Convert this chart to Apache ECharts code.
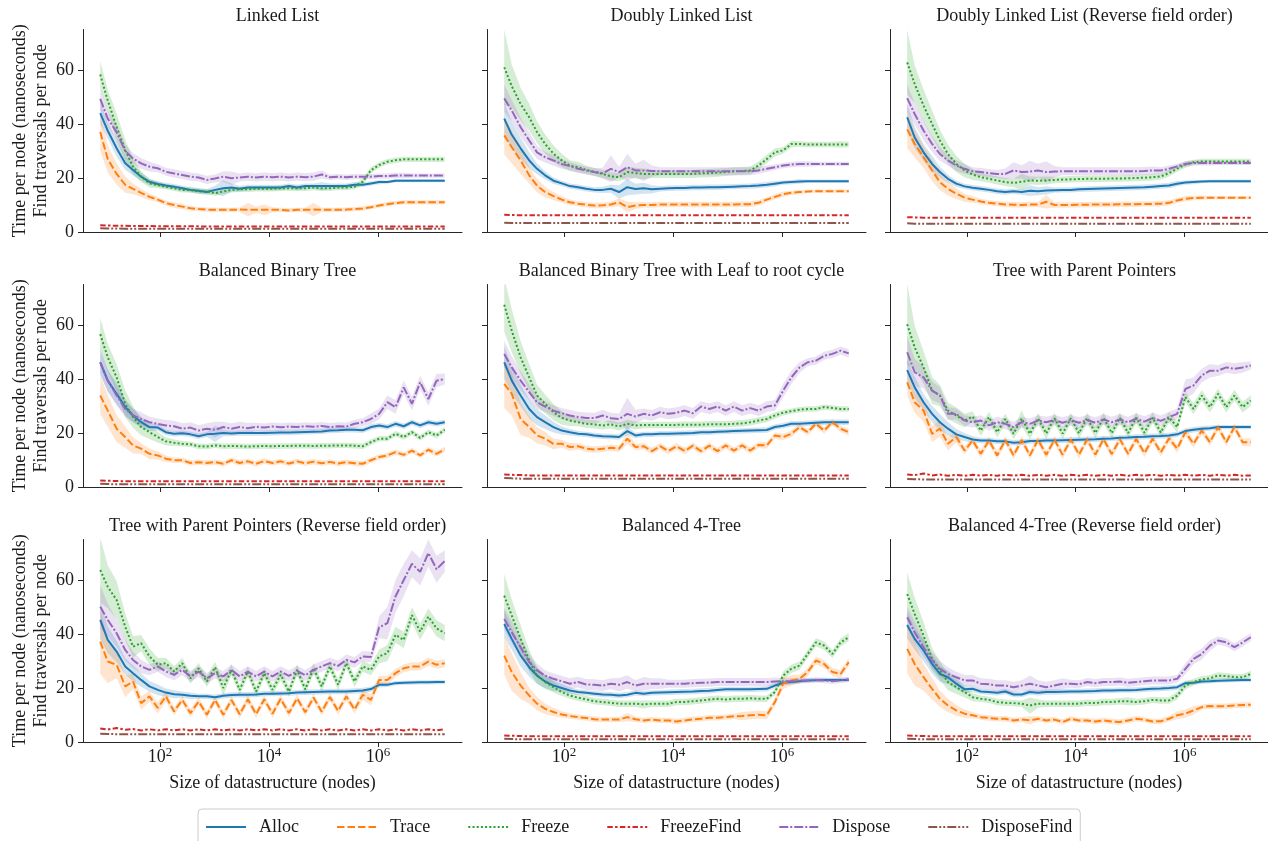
<!DOCTYPE html>
<html>
<head>
<meta charset="utf-8">
<title>Time per node by datastructure size</title>
<script src="https://cdn.jsdelivr.net/npm/echarts@6/dist/echarts.min.js"></script>
<style>
  html, body { margin: 0; padding: 0; background: #fff; }
  #chart { width: 1268px; height: 841px; }
</style>
</head>
<body>
<div id="chart"></div>
<script>
// datastructure sizes (nodes), half-octave steps from 2^3 to 2^24
const sizes = [8, 11, 16, 23, 32, 45, 64, 91, 128, 181, 256, 362, 512, 724, 1024, 1448, 2048, 2896, 4096, 5793, 8192, 11585, 16384, 23170, 32768, 46341, 65536, 92682, 131072, 185364, 262144, 370728, 524288, 741455, 1048576, 1482910, 2097152, 2965821, 4194304, 5931642, 8388608, 11863283, 16777216];

const seriesNames = ['Alloc', 'Trace', 'Freeze', 'FreezeFind', 'Dispose', 'DisposeFind'];
const xTicks = [100, 10000, 1000000];
const yTicks = [0, 20, 40, 60];

// Linked List
const llAlloc = [44, 37.5, 31, 25.5, 23, 20.5, 18.6, 17.8, 17.2, 16.8, 16.2, 15.6, 15.3, 14.8, 15.6, 16.2, 16.5, 16, 16.5, 16.5, 16.5, 16.5, 16.5, 17, 16.5, 17, 17, 17, 17, 17, 17, 17.5, 17.5, 18, 18.5, 18.5, 19, 19, 19, 19, 19, 19, 19];
const llTrace = [37, 27, 21.5, 17.5, 16, 14.5, 13, 12, 10.7, 10, 9.4, 8.8, 8.5, 8.3, 8.2, 8.2, 8.2, 8.3, 8.2, 8.2, 8.2, 8.2, 8.2, 8, 8.2, 8.2, 8.3, 8.2, 8.2, 8.2, 8.3, 8.5, 8.7, 9.2, 9.8, 10.3, 10.7, 11, 11, 11, 11, 11, 11];
const llFreeze = [58.3, 48.7, 38.9, 30.3, 24.2, 20.5, 18, 17.4, 16.8, 16.2, 15.6, 15.6, 15, 15, 14.4, 15, 15.6, 15.8, 15.8, 16, 16, 16, 16.2, 16.2, 16.2, 16.2, 16.5, 16.2, 16.2, 16.5, 16.5, 16.8, 18.6, 22.9, 24.8, 26, 26.6, 26.9, 26.9, 26.9, 26.9, 26.9, 26.9];
const llFFind = [2.5, 2.4, 2.3, 2.3, 2.2, 2.2, 2.2, 2.1, 2.1, 2.1, 2.1, 2.1, 2.1, 2, 2, 2, 2, 2, 2, 2, 2, 2, 2, 2, 2, 2, 2, 2, 2, 2, 2, 2, 2, 2, 2, 2, 2, 2, 2, 2, 2, 2, 2];
const llDispose = [49.3, 42, 37, 30, 27.2, 25.4, 24.2, 23.6, 22.3, 21.7, 21.1, 20.5, 20.2, 19.3, 19.8, 20.5, 19.9, 20.2, 20.5, 20.2, 20.5, 20.3, 20.5, 20.2, 20.5, 20.3, 20.5, 21.3, 20.3, 20.5, 20.3, 20.5, 20.5, 20.5, 20.7, 20.7, 20.9, 20.9, 20.9, 20.9, 20.9, 20.9, 20.9];
const llDFind = [1.4, 1.3, 1.3, 1.2, 1.2, 1.2, 1.2, 1.2, 1.2, 1.2, 1.2, 1.2, 1.2, 1.2, 1.2, 1.2, 1.2, 1.2, 1.2, 1.2, 1.2, 1.2, 1.2, 1.2, 1.2, 1.2, 1.2, 1.2, 1.2, 1.2, 1.2, 1.2, 1.2, 1.2, 1.2, 1.2, 1.2, 1.2, 1.2, 1.2, 1.2, 1.2, 1.2];
const llAllocBand = [4, 3, 3, 2.5, 2, 1.5, 1.2, 1, 1, 1, 1, 1, 1, 1, 1.5, 3, 1.5, 1, 1, 1, 1, 1, 1, 1, 1, 1, 1, 1.5, 1, 1, 1, 1, 0.8, 0.8, 0.8, 0.6, 0.6, 0.6, 0.6, 0.6, 0.6, 0.6, 0.6];
const llTraceBand = [7, 5, 4, 3, 2, 1.5, 1.2, 1, 1, 1, 1, 0.8, 0.8, 0.8, 0.8, 0.8, 0.8, 0.8, 2.5, 1.2, 2, 1, 0.8, 0.8, 0.8, 0.8, 2.5, 0.8, 0.8, 0.8, 0.8, 0.8, 0.8, 0.8, 0.8, 0.8, 0.8, 0.8, 0.8, 0.8, 0.8, 0.8, 0.8];
const llFreezeBand = [5, 4, 5, 4, 3, 2, 1.5, 1.2, 1, 1, 1, 1, 1, 1, 1, 1, 1, 1, 1, 1, 1, 1, 1, 1, 1, 1, 1, 1, 1, 1, 1, 1, 1.2, 1.2, 1, 1, 1, 1, 1, 1, 1, 1, 1];
const llDisposeBand = [4, 3, 3, 2.5, 2, 2, 1.8, 1.5, 1.5, 1.5, 1.5, 1.5, 1.5, 1.5, 1.5, 2, 2.5, 1.5, 1.5, 1.5, 1.5, 1.5, 1.5, 1.5, 1.5, 1.5, 1.5, 1.5, 1, 1, 1, 1, 1, 1, 1, 1, 1, 1, 0.8, 0.8, 0.8, 0.8, 0.8];

// Doubly Linked List
const dllAlloc = [42, 36, 31, 26.5, 23.4, 21, 19, 18, 17, 16.6, 16, 15.6, 15.6, 16, 14.8, 16.6, 15.9, 16.2, 15.8, 16, 16.2, 16.3, 16.3, 16.5, 16.5, 16.6, 16.6, 16.7, 16.8, 16.9, 17, 17.2, 17.5, 17.9, 18.3, 18.5, 18.7, 18.8, 18.8, 18.8, 18.8, 18.8, 18.8];
const dllTrace = [35.8, 31.4, 26.5, 21, 17.2, 14.8, 13.3, 12, 11, 10.5, 10.1, 9.8, 9.9, 10.2, 11, 9.2, 9.8, 10, 10, 10.2, 10.2, 10.2, 10.2, 10.2, 10.2, 10.2, 10.2, 10.2, 10.2, 10.3, 10.3, 10.8, 12, 13, 14, 14.5, 14.8, 15, 15.1, 15.1, 15.1, 15.1, 15.1];
const dllFreeze = [61, 54, 47.4, 42.5, 37, 32.6, 29, 26.5, 24.6, 24, 23, 22.2, 21.5, 20.6, 20.3, 22.2, 21.8, 21.5, 21.5, 21.5, 21.5, 21.5, 21.5, 21.5, 21.7, 21.8, 22, 22.2, 22.5, 22.6, 22.8, 24.6, 27, 29.5, 30.2, 32.6, 32.6, 32.4, 32.4, 32.4, 32.4, 32.4, 32.4];
const dllFFind = [6.4, 6.3, 6.2, 6.2, 6.2, 6.2, 6.2, 6.2, 6.2, 6.2, 6.2, 6.2, 6.2, 6.2, 6.2, 6.2, 6.2, 6.2, 6.2, 6.2, 6.2, 6.2, 6.2, 6.2, 6.2, 6.2, 6.2, 6.2, 6.2, 6.2, 6.2, 6.2, 6.2, 6.2, 6.2, 6.2, 6.2, 6.2, 6.2, 6.2, 6.2, 6.2, 6.2];
const dllDispose = [49.5, 45, 38.8, 33.9, 29.5, 27.7, 26.5, 25.2, 24.4, 23.4, 22.8, 22.2, 21.8, 23.4, 22.2, 24, 22.8, 22.8, 22.6, 22.5, 22.5, 22.5, 22.5, 22.5, 22.5, 22.5, 22.5, 22.5, 22.5, 22.5, 22.5, 22.8, 23.4, 24, 24.6, 25, 25.2, 25.2, 25.2, 25.2, 25.2, 25.2, 25.2];
const dllDFind = [3.4, 3.3, 3.3, 3.3, 3.3, 3.3, 3.3, 3.3, 3.3, 3.3, 3.3, 3.3, 3.3, 3.3, 3.3, 3.3, 3.3, 3.3, 3.3, 3.3, 3.3, 3.3, 3.3, 3.3, 3.3, 3.3, 3.3, 3.3, 3.3, 3.3, 3.3, 3.3, 3.3, 3.3, 3.3, 3.3, 3.3, 3.3, 3.3, 3.3, 3.3, 3.3, 3.3];
const dllAllocBand = [6, 5, 4, 3, 2, 1.5, 1.2, 1, 1, 1, 1, 1, 1.2, 1.5, 2.5, 3, 2, 2, 1.5, 1, 1, 1, 1, 1, 1, 1, 1, 1, 1, 1, 1, 1, 1, 1, 0.8, 0.8, 0.8, 0.6, 0.6, 0.6, 0.6, 0.6, 0.6];
const dllTraceBand = [7, 6, 5, 3, 2.5, 2, 1.5, 1.2, 1, 1, 1, 1, 1, 1, 1.5, 2, 1.2, 1, 1, 1, 1, 1, 1, 1, 1, 1, 1, 1, 1, 1, 1, 1, 1, 1, 1, 0.8, 0.8, 0.6, 0.6, 0.6, 0.6, 0.6, 0.6];
const dllFreezeBand = [14, 8, 6, 5, 4, 3.5, 3, 2.5, 2, 2, 1.5, 1.5, 1.5, 1.5, 1.5, 2, 2, 2, 1.5, 1.5, 1.5, 1.5, 1.5, 1.5, 1.5, 1.5, 1.5, 1.5, 1.5, 1.5, 1.5, 1.5, 1.5, 1.5, 1.2, 1.2, 1, 1, 1, 1, 1, 1.2, 1];
const dllDisposeBand = [5, 4, 3.5, 3, 2.5, 2, 2, 1.8, 1.5, 1.5, 1.5, 1.5, 2, 5, 2, 5, 2.5, 4, 2, 1.5, 1.5, 1.5, 1.5, 1.5, 1.5, 1.5, 1.5, 1.5, 1.5, 1.5, 1.5, 1.2, 1.2, 1, 1, 1, 1, 1, 0.8, 0.8, 0.8, 0.8, 0.8];

// Doubly Linked List (Reverse field order)
const dllrAlloc = [42.5, 35, 29.5, 25.2, 22.2, 19.7, 17.9, 16.9, 16.4, 16, 15.6, 15.1, 14.8, 15.1, 14.8, 15.3, 15.1, 15.4, 15.5, 15.6, 15.6, 15.8, 15.9, 16, 16.1, 16.2, 16.3, 16.4, 16.5, 16.6, 16.8, 17, 17.2, 17.9, 18.3, 18.5, 18.7, 18.8, 18.8, 18.8, 18.8, 18.8, 18.8];
const dllrTrace = [38, 32.6, 27.7, 22.8, 18.5, 16, 14.2, 12.7, 12, 11.3, 10.8, 10.5, 10.2, 10.1, 10, 10.2, 10.2, 11.2, 10, 10, 10, 10.1, 10.1, 10.2, 10.2, 10.2, 10.3, 10.3, 10.3, 10.4, 10.4, 10.5, 10.8, 11.7, 12.3, 12.6, 12.7, 12.7, 12.7, 12.7, 12.7, 12.7, 12.7];
const dllrFreeze = [62.8, 54.8, 46.8, 40, 33.9, 28.9, 25.2, 22.8, 21.3, 20.3, 19.7, 19.1, 18.5, 18.2, 18.6, 19.1, 19, 19.1, 19.3, 19.4, 19.5, 19.6, 19.7, 19.7, 19.7, 19.8, 19.8, 19.9, 20, 20.1, 20.3, 20.6, 21.8, 23.5, 25, 25.8, 26.1, 26.1, 26.1, 26.1, 26.1, 26.1, 26.1];
const dllrFFind = [5.5, 5.4, 5.3, 5.3, 5.3, 5.3, 5.3, 5.3, 5.3, 5.3, 5.3, 5.3, 5.3, 5.3, 5.3, 5.3, 5.3, 5.3, 5.3, 5.3, 5.3, 5.3, 5.3, 5.3, 5.3, 5.3, 5.3, 5.3, 5.3, 5.3, 5.3, 5.3, 5.3, 5.3, 5.3, 5.3, 5.3, 5.3, 5.3, 5.3, 5.3, 5.3, 5.3];
const dllrDispose = [49.6, 43.7, 37.6, 32.6, 28.9, 26.5, 24.6, 23.4, 22.5, 22.2, 21.8, 21.5, 21.5, 22.8, 22.2, 22.4, 22.8, 22.2, 22.4, 22.5, 22.5, 22.5, 22.5, 22.5, 22.5, 22.5, 22.5, 22.5, 22.5, 22.6, 22.8, 22.8, 23.4, 24.3, 25.2, 25.6, 25.6, 25.6, 25.6, 25.6, 25.6, 25.6, 25.6];
const dllrDFind = [3.2, 3.1, 3.1, 3.1, 3.1, 3.1, 3.1, 3.1, 3.1, 3.1, 3.1, 3.1, 3.1, 3.1, 3.1, 3.1, 3.1, 3.1, 3.1, 3.1, 3.1, 3.1, 3.1, 3.1, 3.1, 3.1, 3.1, 3.1, 3.1, 3.1, 3.1, 3.1, 3.1, 3.1, 3.1, 3.1, 3.1, 3.1, 3.1, 3.1, 3.1, 3.1, 3.1];
const dllrAllocBand = [5, 4, 3, 3, 2, 1.5, 1.2, 1, 1, 1, 1, 1, 1, 1, 1, 2, 1.5, 1.5, 1, 1, 1, 1, 1, 1, 1, 1, 1, 1, 1, 1, 1, 1, 1, 1, 0.8, 0.8, 0.6, 0.6, 0.6, 0.6, 0.6, 0.6, 0.6];
const dllrTraceBand = [7, 5, 4, 4, 3, 2.5, 2, 1.5, 1.2, 1, 1, 1, 1, 1, 1, 1, 1, 2.5, 1, 1, 1, 1, 1, 1, 1, 1, 1, 1, 1, 1, 1, 1, 1, 1, 1, 0.8, 0.8, 0.6, 0.6, 0.6, 0.6, 0.6, 0.6];
const dllrFreezeBand = [12, 7, 6, 5, 4, 3.5, 3, 2.5, 2, 1.5, 1.5, 1.5, 1.5, 1.5, 3, 1.5, 1.5, 1.5, 1.2, 1.2, 1.2, 1.2, 1.2, 1.2, 1.2, 1.2, 1.2, 1.2, 1.2, 1.2, 1.2, 1.2, 1.2, 1.2, 1.2, 1, 1, 1, 1, 1, 1, 1, 1];
const dllrDisposeBand = [5, 4, 3.5, 3, 2.5, 2, 2, 1.8, 1.5, 1.5, 1.5, 1.5, 2, 3, 2.5, 4, 2.5, 4, 2, 1.5, 1.5, 1.5, 1.5, 1.5, 1.5, 1.5, 1.5, 1.5, 1.5, 1.5, 1.5, 1.2, 1.2, 1, 1, 1, 1, 1, 0.8, 0.8, 0.8, 0.8, 0.8];

// Balanced Binary Tree
const bbtAlloc = [46.2, 39.4, 34.5, 29.6, 26.5, 24, 22.2, 22, 20.3, 19.7, 19.9, 19.5, 18.8, 19.5, 19.7, 20, 19.8, 20, 20, 20, 20, 20.1, 20.2, 20.2, 20.3, 20.4, 20.5, 20.6, 20.9, 21, 21.2, 21.2, 21, 22.2, 22.8, 22.2, 23.4, 22.5, 24, 22.8, 24, 23.4, 24];
const bbtTrace = [33.9, 28.3, 21.6, 18.5, 15.4, 14.2, 12.3, 11.7, 10.5, 9.9, 9.9, 8.9, 9.2, 8.9, 9.2, 8.6, 9.9, 8.9, 9.5, 8.6, 9.6, 8.9, 9.5, 8.7, 9.5, 8.8, 9.4, 8.8, 9.3, 8.7, 9.2, 8.8, 8.6, 9.9, 11.1, 11.7, 12.9, 11.9, 13.5, 11.7, 13.8, 12.3, 13.9];
const bbtFreeze = [56.6, 48, 40.6, 30.8, 25.9, 22.2, 20.3, 18.5, 16.9, 16.4, 16, 15.8, 15.1, 15, 15.4, 15.1, 15.2, 15.1, 15, 15.1, 15.2, 15.1, 15.2, 15.2, 15.3, 15.3, 15.2, 15.3, 15.3, 15.4, 15.4, 15.3, 15.1, 16.6, 17.9, 17.9, 19.7, 18.5, 20.3, 18.2, 20.3, 19.1, 21.2];
const bbtFFind = [2.4, 2.3, 2.2, 2.1, 2.1, 2.1, 2.1, 2.1, 2.1, 2.1, 2.1, 2.1, 2.1, 2.1, 2.1, 2.1, 2.1, 2.1, 2.1, 2.1, 2.1, 2.1, 2.1, 2.1, 2.1, 2.1, 2.1, 2.1, 2.1, 2.1, 2.1, 2.1, 2.1, 2.1, 2.1, 2.1, 2.1, 2.1, 2.1, 2.1, 2.1, 2.1, 2.1];
const bbtDispose = [46.2, 39.4, 33.9, 28.9, 26.5, 25.2, 24, 23.4, 22.8, 22.5, 21.6, 22, 20.9, 21.6, 21.2, 22.2, 21.6, 22.2, 21.8, 22.3, 22, 22.4, 22.1, 22.4, 22.2, 22.5, 22.3, 22.6, 22.2, 22.5, 22.4, 23.4, 24, 25.2, 27.1, 31.4, 29.6, 36.9, 30.8, 38.8, 32.6, 39.4, 40];
const bbtDFind = [1.2, 1.1, 1, 1, 1, 1, 1, 1, 1, 1, 1, 1, 1, 1, 1, 1, 1, 1, 1, 1, 1, 1, 1, 1, 1, 1, 1, 1, 1, 1, 1, 1, 1, 1, 1, 1, 1, 1, 1, 1, 1, 1, 1];
const bbtAllocBand = [5, 4, 4, 3, 2.5, 2, 1.5, 1.2, 1, 1, 1, 1, 1, 1, 3, 1.2, 1, 1, 1, 1, 1, 1, 1, 1, 1, 1, 1, 1, 1, 1, 1, 1, 1, 1, 1, 1, 1, 1, 1, 1, 1, 1, 1];
const bbtTraceBand = [7, 6, 5, 4, 3, 2, 2, 1.5, 1.2, 1, 1, 1, 1, 1, 1, 1, 1, 1, 1, 1, 1, 1, 1, 1, 1, 1, 1, 1, 1, 1, 1, 1, 1, 1, 1, 1, 1, 1, 1, 1, 1, 1, 1];
const bbtFreezeBand = [6, 5, 5, 5, 4, 3, 2.5, 2, 1.5, 1.2, 1, 1, 1, 1, 1, 1, 1, 1, 1, 1, 1, 1, 1, 1, 1, 1, 1, 1, 1, 1, 1, 1, 1, 1, 1, 1, 1, 1, 1, 1, 1, 1, 1];
const bbtDisposeBand = [4, 4, 3.5, 3, 2.5, 2.5, 2, 2, 2, 2, 2, 2, 2, 2, 3, 2, 2, 2, 2, 1.5, 1.5, 1.5, 1.5, 1.5, 1.5, 1.5, 1.5, 1.5, 1.5, 1.5, 1.5, 1.5, 1.5, 2, 2, 2.5, 2.5, 2.5, 2.5, 2.5, 2.5, 2.5, 2];

// Balanced Binary Tree with Leaf to root cycle
const bbtcAlloc = [46.2, 39.4, 33.9, 28.9, 25.9, 24, 22.2, 20.9, 20.3, 19.7, 19.5, 19.1, 18.8, 18.7, 18.5, 20.7, 19.1, 19.5, 19.5, 19.7, 19.7, 19.8, 19.9, 20, 20.3, 20.3, 20.5, 20.6, 20.7, 20.8, 20.9, 21, 21.1, 22.2, 22.7, 23.4, 23.4, 23.6, 23.8, 24, 24, 24, 24];
const bbtcTrace = [38.2, 34.5, 25.2, 22.2, 19.1, 17.9, 16, 16, 14.8, 15.1, 14.2, 13.9, 14.2, 14.5, 14.2, 17.9, 14.8, 15.1, 13.3, 15.1, 13.3, 15.1, 13.3, 15.3, 13.3, 15.3, 13.3, 15.4, 13.5, 15.4, 13.5, 15.6, 15.4, 19.1, 18.5, 19.7, 22.2, 20.3, 23.4, 20.9, 24, 21.6, 20.3];
const bbtcFreeze = [67.5, 57.9, 48, 40.6, 33.9, 30.8, 27.7, 25.6, 24.6, 24, 23.4, 23.2, 22.8, 23.2, 22.4, 23.4, 22.8, 23, 23, 23, 23, 23, 23.1, 23.1, 23.1, 23.2, 23.2, 23.2, 23.4, 23.6, 24, 24.6, 25.2, 26.5, 27.5, 28.1, 28.6, 28.9, 28.9, 29.6, 29.3, 28.9, 28.9];
const bbtcFFind = [4.6, 4.5, 4.4, 4.3, 4.3, 4.3, 4.3, 4.3, 4.3, 4.3, 4.3, 4.3, 4.3, 4.3, 4.3, 4.3, 4.3, 4.3, 4.3, 4.3, 4.3, 4.3, 4.3, 4.3, 4.3, 4.3, 4.3, 4.3, 4.3, 4.3, 4.3, 4.3, 4.3, 4.3, 4.3, 4.3, 4.3, 4.3, 4.3, 4.3, 4.3, 4.3, 4.3];
const bbtcDispose = [49.3, 44.3, 39.4, 35.1, 31.4, 29.8, 28.3, 27.3, 26.5, 25.9, 25.6, 25.5, 26.5, 25.5, 25.2, 27.1, 26.1, 27.1, 26.5, 27.7, 27.1, 27.5, 28.3, 27.3, 29.8, 28.9, 29.8, 28.3, 29.8, 28.3, 29.2, 28.3, 29.8, 30.2, 35.7, 40.6, 44.3, 46.2, 46.8, 48.6, 49.3, 50.5, 49.5];
const bbtcDFind = [3.3, 3.2, 3.1, 3.1, 3.1, 3.1, 3.1, 3.1, 3.1, 3.1, 3.1, 3.1, 3.1, 3.1, 3.1, 3.1, 3.1, 3.1, 3.1, 3.1, 3.1, 3.1, 3.1, 3.1, 3.1, 3.1, 3.1, 3.1, 3.1, 3.1, 3.1, 3.1, 3.1, 3.1, 3.1, 3.1, 3.1, 3.1, 3.1, 3.1, 3.1, 3.1, 3.1];
const bbtcAllocBand = [6, 5, 4, 3.5, 3, 2.5, 2, 1.5, 1.2, 1, 1, 1, 1, 1, 1, 1.5, 1, 1, 1, 1, 1, 1, 1, 1, 1, 1, 1, 1, 1, 1, 1, 1, 1, 1, 1, 1, 1, 1, 1, 1, 1, 1, 1];
const bbtcTraceBand = [9, 8, 6, 4, 3, 2.5, 2, 1.5, 1.5, 1.2, 1.2, 1.2, 1.2, 1.2, 1.2, 2, 1.2, 1.2, 1.2, 1.2, 1.2, 1.2, 1.2, 1.2, 1.2, 1.2, 1.2, 1.2, 1.2, 1.2, 1.2, 1.2, 1.2, 1.2, 1.2, 1.2, 1.2, 1.2, 1.2, 1.2, 1.2, 1.2, 1.2];
const bbtcFreezeBand = [10, 8, 6, 5, 4, 3.5, 3, 2.5, 2, 1.5, 1.5, 1.5, 1.5, 1.5, 1.5, 1.5, 1.5, 1.2, 1.2, 1.2, 1.2, 1.2, 1.2, 1.2, 1.2, 1.2, 1.2, 1.2, 1.2, 1.2, 1.2, 1.2, 1.2, 1.2, 1, 1, 1, 1, 1, 1, 1, 1, 1];
const bbtcDisposeBand = [5, 4, 3.5, 3, 2.5, 2, 2, 2, 2, 2, 2, 2, 2, 2, 2, 6, 2.5, 2, 2, 2, 2, 2, 2, 2, 2, 2, 2, 2, 2, 2, 2, 2, 2, 2, 2.5, 2.5, 2, 1.5, 1.5, 1.5, 1.5, 1.5, 1.5];

// Tree with Parent Pointers
const tppAlloc = [43.3, 36.9, 31.4, 27.1, 24, 21.6, 19.5, 18.5, 17.6, 17.2, 17.2, 16.9, 16.9, 16.4, 16.6, 17, 17, 17.2, 17.2, 17.3, 17.4, 17.5, 17.6, 17.7, 17.9, 18, 18.2, 18.3, 18.5, 18.6, 18.8, 18.9, 19.1, 19.5, 20.7, 21.2, 21.6, 21.8, 22.2, 22.2, 22.2, 22.2, 22.2];
const tppTrace = [38.8, 31.4, 28.3, 19.7, 21.6, 16, 18.5, 13.5, 17.2, 12.3, 17.2, 11.7, 17.4, 11.7, 17.4, 11.7, 17.5, 11.9, 17.5, 11.9, 17.6, 12, 17.6, 12, 17.7, 12.2, 17.7, 12.3, 17.8, 12.5, 17.9, 12.8, 18, 14.2, 20.3, 16, 20.9, 16.6, 22.2, 16.6, 22.2, 16.6, 16.6];
const tppFreeze = [60.3, 51.7, 44.3, 35.7, 33.9, 28.3, 26.5, 24.6, 26.1, 20.9, 25.9, 20.3, 25.2, 19.7, 25.4, 19.7, 25.4, 19.8, 25.5, 19.8, 25.5, 19.9, 25.6, 20, 25.6, 20, 25.6, 20, 25.7, 20.1, 25.7, 20.2, 25.8, 22.2, 33.3, 28.9, 33.9, 29.6, 34.5, 29.6, 33.9, 29.6, 32];
const tppFFind = [4.6, 4.4, 5, 4.3, 4.6, 4.2, 4.5, 4.2, 4.5, 4.2, 4.5, 4.2, 4.5, 4.2, 4.5, 4.2, 4.5, 4.2, 4.5, 4.2, 4.5, 4.2, 4.5, 4.2, 4.5, 4.2, 4.5, 4.2, 4.5, 4.2, 4.5, 4.2, 4.5, 4.2, 4.5, 4.2, 4.5, 4.2, 4.5, 4.2, 4.5, 4.2, 4.3];
const tppDispose = [49.9, 42.5, 40.6, 35.7, 33.9, 27.1, 27.1, 24.6, 24, 24.6, 22.8, 24, 23.4, 22.2, 24, 23.4, 24.6, 24, 24.8, 23.8, 24.8, 23.8, 24.8, 23.8, 25, 24, 25, 24, 25.3, 24.2, 25.6, 24.5, 25.9, 27.1, 36.3, 37.6, 41.3, 43.1, 43.1, 44.3, 43.8, 44.3, 45];
const tppDFind = [3, 2.9, 2.8, 2.8, 2.8, 2.8, 2.8, 2.8, 2.8, 2.8, 2.8, 2.8, 2.8, 2.8, 2.8, 2.8, 2.8, 2.8, 2.8, 2.8, 2.8, 2.8, 2.8, 2.8, 2.8, 2.8, 2.8, 2.8, 2.8, 2.8, 2.8, 2.8, 2.8, 2.8, 2.8, 2.8, 2.8, 2.8, 2.8, 2.8, 2.8, 2.8, 2.8];
const tppAllocBand = [4, 4, 3, 3, 3, 2.5, 2, 1.5, 1.2, 1, 1, 1, 1, 1, 1, 1, 1, 1, 1, 1, 1, 1, 1, 1, 1, 1, 1, 1, 1, 1, 1, 1, 1, 1, 1, 1, 1, 1, 0.8, 0.8, 0.8, 0.8, 0.8];
const tppTraceBand = [5, 4, 4, 3, 3, 2.5, 2, 1.5, 1.5, 1.5, 1.5, 1.5, 1.5, 1.5, 1.5, 1.5, 1.5, 1.5, 1.5, 1.5, 1.5, 1.5, 1.5, 1.5, 1.5, 1.5, 1.5, 1.5, 1.5, 1.5, 1.5, 1.5, 1.5, 1.5, 1.5, 1.5, 1.5, 1.5, 1.5, 1.5, 1.5, 1.5, 1.5];
const tppFreezeBand = [15, 8, 6, 5, 4, 3, 3, 2.5, 2, 2, 2, 2, 2, 2, 3, 2, 2, 2, 2, 2, 2, 2, 2, 2, 2, 2, 2, 2, 2, 2, 2, 2, 2, 2, 2, 2, 2, 2, 2, 2, 2, 2, 2];
const tppDisposeBand = [6, 5, 4, 3.5, 3, 2.5, 2, 2, 2, 2, 2, 2, 2, 2, 2, 2, 2, 2, 2, 2, 2, 2, 2, 2, 2, 2, 2, 2, 2, 2, 2, 2, 2, 2, 3.5, 3, 2.5, 2.5, 2, 2, 2, 2, 1.5];

// Tree with Parent Pointers (Reverse field order)
const tpprAlloc = [45.2, 37.8, 33.5, 28, 25.5, 23, 20.6, 19.3, 18.3, 17.7, 17.5, 17.1, 16.9, 16.9, 16.6, 17.1, 17.4, 17.5, 17.5, 17.6, 17.9, 17.9, 18, 18.1, 18.3, 18.4, 18.5, 18.6, 18.7, 18.7, 18.7, 18.9, 19.1, 19.6, 21.2, 21.2, 21.8, 21.9, 22, 22.1, 22.1, 22.2, 22.2];
const tpprTrace = [37.2, 29.8, 28.6, 20.6, 22.4, 14.4, 16.9, 12.6, 16.9, 11.3, 15.6, 10.7, 15, 10.1, 15.6, 10.1, 15.6, 10.3, 15.8, 10.3, 15.8, 10.5, 16, 10.7, 16.2, 11, 16.5, 11.2, 16.7, 11.5, 16.9, 12, 17.5, 15.6, 23, 23, 25.5, 27.3, 28, 28, 29.8, 28.6, 29.2];
const tpprFreeze = [63.7, 57.5, 52.6, 42.7, 35.3, 36.6, 31.7, 28.6, 29.2, 26.1, 29.2, 23.6, 27.3, 22.4, 27.7, 20, 26.7, 19.3, 26.1, 18.7, 25.5, 19.3, 24.9, 18.7, 26.7, 19.5, 27.3, 20.6, 28, 21.2, 29.2, 22.4, 28, 26.7, 31.7, 32.9, 39.7, 37.8, 47, 40.9, 46.4, 42.1, 40.3];
const tpprFFind = [5, 4.6, 5.2, 4.5, 4.8, 4.3, 4.7, 4.3, 4.7, 4.3, 4.7, 4.3, 4.7, 4.3, 4.7, 4.3, 4.7, 4.3, 4.7, 4.3, 4.7, 4.3, 4.7, 4.3, 4.7, 4.3, 4.7, 4.3, 4.7, 4.3, 4.7, 4.3, 4.7, 4.3, 4.7, 4.3, 4.7, 4.3, 4.7, 4.3, 4.7, 4.3, 4.7];
const tpprDispose = [50.1, 45.2, 40.3, 34.1, 30.4, 28, 26.7, 28, 26.1, 24.9, 26.7, 24.3, 26.1, 23.6, 25.5, 24.3, 26.7, 24.3, 26.1, 24.3, 26.1, 24.3, 26.1, 24.5, 26.3, 24.7, 26.7, 28, 29.2, 28.2, 30.4, 29.5, 31.7, 31.5, 42.5, 44, 54, 60, 66, 63, 70, 64, 67];
const tpprDFind = [3.1, 3, 2.9, 2.9, 2.9, 2.9, 2.9, 2.9, 2.9, 2.9, 2.9, 2.9, 2.9, 2.9, 2.9, 2.9, 2.9, 2.9, 2.9, 2.9, 2.9, 2.9, 2.9, 2.9, 2.9, 2.9, 2.9, 2.9, 2.9, 2.9, 2.9, 2.9, 2.9, 2.9, 2.9, 2.9, 2.9, 2.9, 2.9, 2.9, 2.9, 2.9, 2.9];
const tpprAllocBand = [7, 5, 4, 3, 3, 2.5, 2, 2, 1.5, 1.5, 1.2, 1.2, 1, 1, 1, 1, 1, 1, 1, 1, 1, 1, 1, 1, 1, 1, 1, 1, 1, 1, 1, 1, 1, 1, 1, 0.8, 0.8, 0.8, 0.8, 0.8, 0.8, 0.8, 0.8];
const tpprTraceBand = [12, 8, 5, 4, 3, 2.5, 2, 2, 2, 1.5, 1.5, 1.5, 1.5, 1.5, 1.5, 1.5, 1.5, 1.5, 1.5, 1.5, 1.5, 1.5, 1.5, 1.5, 1.5, 1.5, 1.5, 1.5, 1.5, 1.5, 1.5, 1.5, 2, 2, 1.5, 1.5, 1.5, 1.5, 1.5, 1.5, 1.5, 1.5, 1.5];
const tpprFreezeBand = [12, 8, 7, 5, 4, 3, 3, 2.5, 2, 2, 2, 2, 2, 2, 2, 3, 2, 2, 2, 2, 2, 2, 2, 2, 2, 2, 2, 2, 2, 2, 2, 2, 2, 2, 2.5, 3, 3, 3, 3, 3, 3, 3, 3];
const tpprDisposeBand = [8, 6, 5, 4, 3, 2.5, 2, 2, 2, 2, 2, 2, 2, 2, 2, 2, 2, 2, 2, 2, 2, 2, 2, 2, 2, 2, 2, 2, 2, 2, 2, 2, 2, 2, 4, 6, 6, 6, 5, 5, 5, 5, 4];

// Balanced 4-Tree
const b4tAlloc = [43.7, 38.2, 32, 27.7, 24.6, 22.4, 20.9, 20, 19.1, 18.5, 18.2, 17.9, 17.6, 17.5, 17.2, 17.5, 18.2, 17.9, 18.2, 18.3, 18.4, 18.5, 18.6, 18.7, 18.9, 19, 19.3, 19.5, 19.5, 19.5, 19.5, 19.6, 19.7, 20.9, 21.9, 22.2, 22.5, 22.8, 22.9, 23, 23, 23, 23];
const b4tTrace = [32, 25.9, 20.9, 17.2, 14.2, 12.3, 11.1, 10.2, 9.6, 9.2, 8.9, 8.4, 8.3, 8.3, 8.3, 9.2, 8.4, 8, 8.3, 8, 8, 7.6, 8, 8.4, 8.6, 9, 9, 9.2, 9.5, 9.6, 9.9, 10.1, 9.9, 14.8, 21.6, 22.8, 23.4, 25.9, 30.2, 28.9, 25.9, 25.2, 29.6];
const b4tFreeze = [54.2, 46.8, 38.2, 30.2, 24.6, 22.2, 20.3, 18.5, 17.2, 16.4, 15.8, 15.1, 14.8, 14.5, 14.2, 14.2, 14.2, 13.9, 14.2, 14.2, 14.2, 14.8, 14.8, 15.1, 15.4, 15.7, 16, 15.7, 16, 16, 16.2, 16, 16, 18.5, 24.6, 27.1, 28.3, 32.6, 36.9, 35.7, 32.6, 36.9, 38.8];
const b4tFFind = [2.4, 2.3, 2.2, 2.1, 2.1, 2.1, 2.1, 2.1, 2.1, 2.1, 2.1, 2.1, 2.1, 2.1, 2.1, 2.1, 2.1, 2.1, 2.1, 2.1, 2.1, 2.1, 2.1, 2.1, 2.1, 2.1, 2.1, 2.1, 2.1, 2.1, 2.1, 2.1, 2.1, 2.1, 2.1, 2.1, 2.1, 2.1, 2.1, 2.1, 2.1, 2.1, 2.1];
const b4tDispose = [45.6, 40.6, 35.1, 29.6, 26.5, 24.6, 23.4, 22.5, 21.6, 22.2, 21.3, 21.2, 20.9, 21.6, 21.2, 22.2, 20.9, 21.6, 21.6, 21.6, 21.6, 21.6, 21.6, 21.8, 21.9, 22, 22.2, 22.2, 22.2, 22.2, 22.2, 22.2, 22.2, 22.4, 22.5, 22.5, 22.8, 22.8, 23, 22.8, 22.5, 22.8, 23.2];
const b4tDFind = [1.2, 1.1, 1, 1, 1, 1, 1, 1, 1, 1, 1, 1, 1, 1, 1, 1, 1, 1, 1, 1, 1, 1, 1, 1, 1, 1, 1, 1, 1, 1, 1, 1, 1, 1, 1, 1, 1, 1, 1, 1, 1, 1, 1];
const b4tAllocBand = [5, 4, 4, 3.5, 3, 2.5, 2, 1.5, 1.2, 1, 1, 1, 1, 1, 1, 1, 1, 1, 1, 1, 1, 1, 1, 1, 1, 1, 1, 1, 1, 1, 1, 1, 1, 1, 1, 0.8, 0.8, 0.8, 0.8, 0.8, 0.8, 0.8, 0.8];
const b4tTraceBand = [7, 7, 5, 3, 2.5, 2, 1.5, 1.2, 1, 1, 1, 1, 1, 1, 1, 1.5, 1, 1, 1, 1, 1, 1, 1, 1, 1, 1, 1, 1, 1, 1.5, 1.5, 1.5, 1.5, 1.5, 2, 2, 1.5, 1.5, 1.5, 1.5, 1.5, 1.5, 1.5];
const b4tFreezeBand = [8, 6, 5, 4, 3, 2.5, 2, 1.5, 1.2, 1.2, 1.2, 1.2, 1.2, 1.2, 1.2, 1.2, 1.2, 1.5, 1.2, 1.2, 1.2, 1.2, 1.2, 1.2, 1.2, 1.2, 1.2, 1.2, 1.2, 1.2, 1.2, 1.2, 1.2, 1.2, 1.5, 1.5, 1.5, 1.5, 1.5, 1.5, 1.5, 1.5, 1.5];
const b4tDisposeBand = [4, 4, 3.5, 3, 2.5, 2, 2, 2, 2, 2, 2, 2, 2, 2, 2.5, 2.5, 2, 2.5, 2, 2, 1.5, 1.5, 1.5, 1.5, 1.5, 1.5, 1.5, 1.5, 1.5, 1.5, 1.5, 1.5, 1.5, 1.5, 1.2, 1.2, 1, 1, 1, 1, 1, 1, 1];

// Balanced 4-Tree (Reverse field order)
const b4trAlloc = [43.3, 38.2, 33.9, 28.9, 25.2, 24, 21.6, 19.5, 19.7, 18.7, 18.5, 18.2, 18.7, 17.6, 17.6, 18.5, 18.2, 18.5, 18.5, 18.6, 18.7, 18.7, 18.8, 18.9, 19.1, 19.1, 19.2, 19.2, 19.3, 19.5, 19.7, 19.8, 20, 20.3, 21.8, 21.9, 22.4, 22.5, 22.7, 22.8, 22.9, 23, 23];
const b4trTrace = [34.5, 28.9, 24, 19.7, 16, 13.5, 11.7, 10.5, 9.9, 9.2, 8.9, 8.6, 8.6, 8, 8.3, 8, 8.6, 8, 8.3, 7.4, 8.6, 8, 8, 7.6, 8, 7.6, 7.4, 8, 8.6, 8.3, 7.6, 7.7, 8.6, 9.9, 10.5, 11.7, 12.9, 13.3, 13.2, 13.3, 13.5, 13.7, 13.8];
const b4trFreeze = [54.8, 47.4, 39.4, 30.8, 26.5, 22.2, 20.3, 18.5, 16.6, 16, 15.6, 14.8, 14.5, 14.4, 14.2, 13.5, 14.2, 14.2, 14.2, 14.2, 14.2, 14.2, 14.5, 14.4, 14.8, 14.8, 15.1, 15.1, 14.8, 15.1, 15.6, 15.4, 15.4, 17.2, 20.9, 22.2, 23.2, 23.6, 24.6, 24.4, 24, 24, 25.2];
const b4trFFind = [2.4, 2.3, 2.2, 2.1, 2.1, 2.1, 2.1, 2.1, 2.1, 2.1, 2.1, 2.1, 2.1, 2.1, 2.1, 2.1, 2.1, 2.1, 2.1, 2.1, 2.1, 2.1, 2.1, 2.1, 2.1, 2.1, 2.1, 2.1, 2.1, 2.1, 2.1, 2.1, 2.1, 2.1, 2.1, 2.1, 2.1, 2.1, 2.1, 2.1, 2.1, 2.1, 2.1];
const b4trDispose = [46.2, 40.6, 35.1, 30.2, 27.1, 25.2, 24, 22.8, 22.8, 21.6, 21.4, 20.9, 20.9, 20.3, 20.9, 21.6, 20.9, 20.3, 20.9, 21.6, 21.6, 21.4, 22.2, 21.8, 22.2, 22.2, 22.4, 21.9, 22.2, 22.5, 22.8, 22.8, 22.8, 23.4, 27.1, 30.8, 32.6, 35.7, 37.6, 36.9, 35.1, 36.9, 38.8];
const b4trDFind = [1.2, 1.1, 1, 1, 1, 1, 1, 1, 1, 1, 1, 1, 1, 1, 1, 1, 1, 1, 1, 1, 1, 1, 1, 1, 1, 1, 1, 1, 1, 1, 1, 1, 1, 1, 1, 1, 1, 1, 1, 1, 1, 1, 1];
const b4trAllocBand = [5, 4, 4, 3.5, 3, 2.5, 2, 1.5, 1.2, 1, 1, 1, 1, 1, 1, 1, 1, 1, 1, 1, 1, 1, 1, 1, 1, 1, 1, 1, 1, 1, 1, 1, 1, 1, 1, 0.8, 0.8, 0.8, 0.8, 0.8, 0.8, 0.8, 0.8];
const b4trTraceBand = [9, 8, 5, 4, 3, 2.5, 2, 1.5, 1.2, 1, 1, 1, 1, 1, 1, 1.5, 1, 1, 1, 1, 1, 1, 1, 1, 1, 1, 1, 1, 1, 1, 1, 1, 1, 1.5, 1.5, 1.5, 1, 1, 1, 1, 1, 1, 1];
const b4trFreezeBand = [8, 6, 5, 4, 3.5, 3, 2.5, 2, 1.5, 1.2, 1.2, 1.2, 1.2, 1.2, 1.2, 3, 1.5, 1.2, 1.2, 1.2, 1.2, 1.2, 1.2, 1.2, 1.2, 1.2, 1.2, 1.5, 1.2, 1.2, 1.2, 1.2, 1.2, 1.5, 1.5, 1.2, 1.2, 1.2, 1.2, 1.2, 1.2, 1.2, 1.2];
const b4trDisposeBand = [4, 4, 3.5, 3, 3, 2.5, 2, 2, 2, 2, 2, 2, 2, 2, 2, 3, 2, 2, 2, 2, 1.5, 1.5, 1.5, 1.5, 1.5, 1.5, 1.5, 1.5, 1.5, 1.5, 1.5, 1.5, 1.5, 1.5, 2, 2, 2, 2, 1.5, 1.5, 1.5, 1.5, 1.5];

const panels = [
  { title: 'Linked List', lines: [llAlloc, llTrace, llFreeze, llFFind, llDispose, llDFind], bands: [llAllocBand, llTraceBand, llFreezeBand, null, llDisposeBand, null] },
  { title: 'Doubly Linked List', lines: [dllAlloc, dllTrace, dllFreeze, dllFFind, dllDispose, dllDFind], bands: [dllAllocBand, dllTraceBand, dllFreezeBand, null, dllDisposeBand, null] },
  { title: 'Doubly Linked List (Reverse field order)', lines: [dllrAlloc, dllrTrace, dllrFreeze, dllrFFind, dllrDispose, dllrDFind], bands: [dllrAllocBand, dllrTraceBand, dllrFreezeBand, null, dllrDisposeBand, null] },
  { title: 'Balanced Binary Tree', lines: [bbtAlloc, bbtTrace, bbtFreeze, bbtFFind, bbtDispose, bbtDFind], bands: [bbtAllocBand, bbtTraceBand, bbtFreezeBand, null, bbtDisposeBand, null] },
  { title: 'Balanced Binary Tree with Leaf to root cycle', lines: [bbtcAlloc, bbtcTrace, bbtcFreeze, bbtcFFind, bbtcDispose, bbtcDFind], bands: [bbtcAllocBand, bbtcTraceBand, bbtcFreezeBand, null, bbtcDisposeBand, null] },
  { title: 'Tree with Parent Pointers', lines: [tppAlloc, tppTrace, tppFreeze, tppFFind, tppDispose, tppDFind], bands: [tppAllocBand, tppTraceBand, tppFreezeBand, null, tppDisposeBand, null] },
  { title: 'Tree with Parent Pointers (Reverse field order)', lines: [tpprAlloc, tpprTrace, tpprFreeze, tpprFFind, tpprDispose, tpprDFind], bands: [tpprAllocBand, tpprTraceBand, tpprFreezeBand, null, tpprDisposeBand, null] },
  { title: 'Balanced 4-Tree', lines: [b4tAlloc, b4tTrace, b4tFreeze, b4tFFind, b4tDispose, b4tDFind], bands: [b4tAllocBand, b4tTraceBand, b4tFreezeBand, null, b4tDisposeBand, null] },
  { title: 'Balanced 4-Tree (Reverse field order)', lines: [b4trAlloc, b4trTrace, b4trFreeze, b4trFFind, b4trDispose, b4trDFind], bands: [b4trAllocBand, b4trTraceBand, b4trFreezeBand, null, b4trDisposeBand, null] }
];

const colors = ['#1f77b4', '#ff7f0e', '#2ca02c', '#d62728', '#9467bd', '#8c564b'];
const bandFills = ['rgba(31,119,180,0.2)', 'rgba(255,127,14,0.2)', 'rgba(44,160,44,0.2)', null, 'rgba(148,103,189,0.2)', null];
const dashes = ['solid', [7.5, 3], [2, 2.2], [5.5, 2.3, 2.5, 2.3], [9, 2, 2, 2], [9, 2, 2, 2, 2, 2]];
const font = "'Liberation Serif', 'Times New Roman', serif";
const ink = '#1a1a1a';
const colLeft = [83, 487, 890];
const rowTop = [29.5, 284.5, 539.5];
const plotW = 379;
const plotH = 202.5;

// one filled polygon per band, drawn through the panel's axes
function bandRenderer(lo, hi, fill) {
  return function (params, api) {
    if (params.dataIndex !== 0) return null;
    var top = sizes.map(function (x, k) { return api.coord([x, hi[k]]); });
    var bottom = sizes.map(function (x, k) { return api.coord([x, lo[k]]); }).reverse();
    return { type: 'polygon', shape: { points: top.concat(bottom) }, style: { fill: fill } };
  };
}

var grids = [], titles = [], xAxes = [], yAxes = [], series = [];

panels.forEach(function (p, i) {
  var col = i % 3, row = Math.floor(i / 3);
  var bottomRow = row === 2, firstCol = col === 0;
  grids.push({ left: colLeft[col], top: rowTop[row], width: plotW, height: plotH });
  titles.push({
    text: p.title,
    left: colLeft[col] + plotW / 2,
    top: rowTop[row] - 27,
    textAlign: 'center',
    textStyle: { fontFamily: font, fontSize: 18, fontWeight: 'normal', color: ink }
  });
  xAxes.push({
    type: 'log', logBase: 10, gridIndex: i,
    min: 3.864, max: 34750000,
    name: bottomRow ? 'Size of datastructure (nodes)' : '',
    nameLocation: 'middle', nameGap: 32,
    nameTextStyle: { fontFamily: font, fontSize: 18, color: ink },
    axisLine: { lineStyle: { color: '#262626', width: 1 } },
    axisTick: { customValues: xTicks, length: 5, lineStyle: { color: '#262626' } },
    axisLabel: {
      show: bottomRow, customValues: xTicks, margin: 4,
      fontFamily: font, color: ink,
      formatter: function (v) { return '{b|10}{s|' + Math.round(Math.log10(v)) + '}'; },
      rich: {
        b: { fontFamily: font, fontSize: 18, lineHeight: 22, color: ink },
        s: { fontFamily: font, fontSize: 13, lineHeight: 13, verticalAlign: 'top', color: ink }
      }
    },
    splitLine: { show: false }
  });
  yAxes.push({
    type: 'value', gridIndex: i, min: 0, max: 75,
    name: firstCol ? 'Time per node (nanoseconds)\nFind traversals per node' : '',
    nameLocation: 'middle', nameRotate: 90, nameGap: 25,
    nameTextStyle: { fontFamily: font, fontSize: 18, lineHeight: 21, color: ink },
    axisLine: { show: true, lineStyle: { color: '#262626', width: 1 } },
    axisTick: { show: true, customValues: yTicks, length: 5, lineStyle: { color: '#262626' } },
    axisLabel: { show: firstCol, customValues: yTicks, margin: 9, fontFamily: font, fontSize: 18, color: ink },
    splitLine: { show: false }
  });
  p.bands.forEach(function (band, s) {
    if (!band) return;
    var mean = p.lines[s];
    var lo = mean.map(function (v, k) { return v - band[k]; });
    var hi = mean.map(function (v, k) { return v + band[k]; });
    series.push({
      type: 'custom', xAxisIndex: i, yAxisIndex: i, silent: true, clip: true, z: 1,
      encode: { x: 0, y: [1, 2] },
      data: sizes.map(function (x, k) { return [x, lo[k], hi[k]]; }),
      renderItem: bandRenderer(lo, hi, bandFills[s])
    });
  });
  p.lines.forEach(function (vals, s) {
    series.push({
      type: 'line', name: seriesNames[s], xAxisIndex: i, yAxisIndex: i, symbol: 'none', z: 3,
      lineStyle: { color: colors[s], width: 2, type: dashes[s] },
      itemStyle: { color: colors[s] },
      data: sizes.map(function (x, k) { return [x, vals[k]]; })
    });
  });
});

var chart = echarts.init(document.getElementById('chart'));
chart.setOption({
  animation: false,
  backgroundColor: '#fff',
  title: titles,
  grid: grids,
  xAxis: xAxes,
  yAxis: yAxes,
  legend: {
    data: seriesNames,
    left: 198, top: 809,
    orient: 'horizontal',
    itemWidth: 40, itemHeight: 14, itemGap: 37,
    padding: [9, 8, 10, 7],
    borderColor: '#cccccc', borderWidth: 1, borderRadius: 4,
    itemStyle: { opacity: 0 },
    textStyle: { fontFamily: font, fontSize: 18, color: ink, padding: [0, 0, 0, 8] }
  },
  series: series
});
</script>
</body>
</html>
